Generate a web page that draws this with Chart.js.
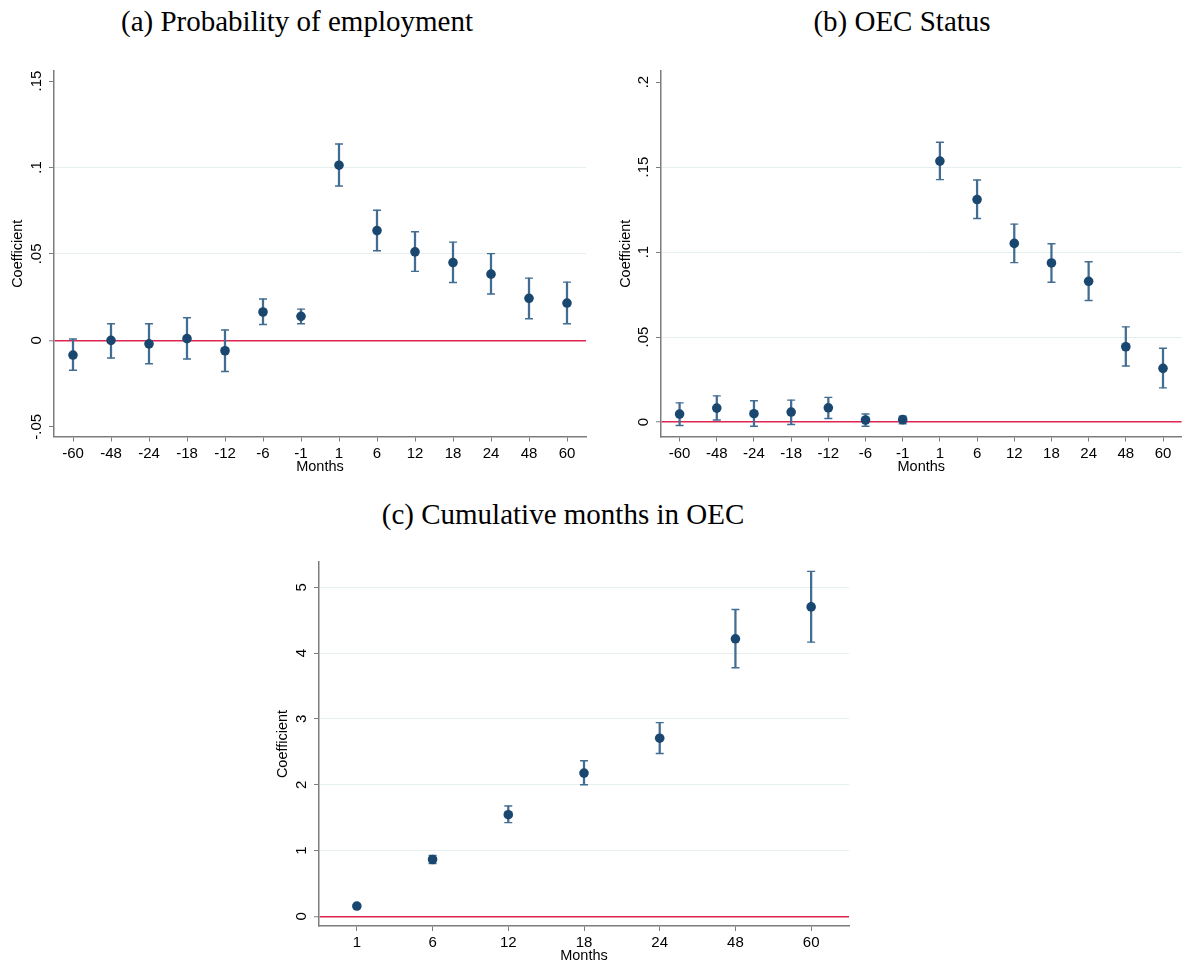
<!DOCTYPE html>
<html>
<head>
<meta charset="utf-8">
<script src="https://cdn.jsdelivr.net/npm/chart.js@4.4.1/dist/chart.umd.min.js"></script>
<style>
  body { margin: 0; background: #fff; width: 1187px; height: 967px; position: relative; overflow: hidden; }
  .title { position: absolute; font-family: "Liberation Serif", serif; font-size: 29px; line-height: 29px;
           white-space: nowrap; transform: translateX(-50%); color: #000; }
  canvas { position: absolute; }
</style>
</head>
<body>
<div class="title" style="left:297px; top:7px">(a) Probability of employment</div>
<div class="title" style="left:902px; top:7px">(b) OEC Status</div>
<div class="title" style="left:563px; top:500px">(c) Cumulative months in OEC</div>

<canvas id="chartA" style="left:0px; top:60px" width="600" height="420"></canvas>
<canvas id="chartB" style="left:617px; top:60px" width="570" height="420"></canvas>
<canvas id="chartC" style="left:260px; top:545px" width="600" height="422"></canvas>

<script>
// months relative to event
const monthsAB = ["-60", "-48", "-24", "-18", "-12", "-6", "-1", "1", "6", "12", "18", "24", "48", "60"];
const monthsC = ["1", "6", "12", "18", "24", "48", "60"];

// (a) probability of employment
const empCoef = [-0.0085, 0.0, -0.002, 0.001, -0.006, 0.0164, 0.0139, 0.1013, 0.0635, 0.0512, 0.045, 0.0383, 0.0243, 0.0216];
const empLo = [-0.0173, -0.0102, -0.0135, -0.0108, -0.018, 0.0092, 0.0096, 0.0893, 0.0518, 0.0399, 0.0335, 0.0268, 0.0125, 0.0096];
const empHi = [0.0008, 0.0096, 0.0096, 0.0131, 0.006, 0.0239, 0.0181, 0.1136, 0.0753, 0.0628, 0.0568, 0.0502, 0.036, 0.0337];

// (b) OEC status
const oecCoef = [0.0047, 0.0082, 0.0049, 0.0059, 0.0084, 0.0012, 0.0014, 0.1535, 0.1309, 0.1051, 0.0936, 0.0828, 0.0443, 0.0316];
const oecLo = [-0.002, 0.0012, -0.0025, -0.0014, 0.0021, -0.0025, -0.001, 0.1426, 0.1197, 0.0938, 0.0822, 0.0715, 0.033, 0.0201];
const oecHi = [0.0113, 0.0154, 0.0125, 0.0129, 0.0145, 0.0047, 0.0035, 0.1646, 0.1424, 0.1164, 0.1049, 0.0943, 0.056, 0.0434];

// (c) cumulative months in OEC
const cumCoef = [0.157, 0.864, 1.545, 2.177, 2.707, 4.217, 4.702];
const cumLo = [0.135, 0.803, 1.424, 2.0, 2.475, 3.778, 4.167];
const cumHi = [0.18, 0.924, 1.677, 2.364, 2.944, 4.662, 5.242];

// y tick values and labels
const yTicksA = [-0.05, 0, 0.05, 0.1, 0.15];
const yLabelsA = ["-.05", "0", ".05", ".1", ".15"];
const yTicksB = [0, 0.05, 0.1, 0.15, 0.2];
const yLabelsB = ["0", ".05", ".1", ".15", ".2"];
const yTicksC = [0, 1, 2, 3, 4, 5];
const yLabelsC = ["0", "1", "2", "3", "4", "5"];

const NAVY = "#1a476f";
const CI = "#426d92";
const RED = "#dc2650";
const GRID = "#e6eff0";
const AXIS = "#7d7d7d";
const SANS = "'Liberation Sans', Arial, sans-serif";

Chart.defaults.font.family = SANS;
Chart.defaults.animation = false;

function makePanel(id, o) {
  const ctx = document.getElementById(id);
  const n = o.yTicks.length;
  return new Chart(ctx, {
    type: "bar",
    data: {
      labels: o.labels,
      datasets: [
        {
          type: "bar",
          data: o.lo.map((v, i) => [v, o.hi[i]]),
          backgroundColor: CI,
          barThickness: 1.6,
          borderWidth: 0,
          order: 2,
        },
        {
          type: "line",
          data: o.hi,
          showLine: false,
          pointStyle: "line",
          pointRadius: 4,
          pointBorderColor: CI,
          pointBorderWidth: 1.4,
          order: 1,
        },
        {
          type: "line",
          data: o.lo,
          showLine: false,
          pointStyle: "line",
          pointRadius: 4,
          pointBorderColor: CI,
          pointBorderWidth: 1.4,
          order: 1,
        },
        {
          type: "line",
          data: o.coef,
          showLine: false,
          pointStyle: "circle",
          pointRadius: 4.8,
          pointBackgroundColor: NAVY,
          pointBorderColor: NAVY,
          pointBorderWidth: 0,
          order: 0,
        },
      ],
    },
    options: {
      responsive: false,
      events: [],
      layout: { padding: o.pad },
      plugins: { legend: { display: false }, tooltip: { enabled: false } },
      scales: {
        x: {
          type: "category",
          offset: true,
          grid: { offset: false, drawOnChartArea: false, tickLength: 5, tickColor: AXIS, tickWidth: 1 },
          border: { color: AXIS, width: 1.5 },
          ticks: { color: "#000", font: { size: 15 }, padding: 3, maxRotation: 0, autoSkip: false },
          title: { display: true, text: "Months", color: "#000", font: { size: 14.5 }, padding: { top: 0, bottom: 2 } },
          afterFit: (s) => {
            s.height = o.xh;
            s.paddingLeft = 0;
            s.paddingRight = 0;
          },
        },
        y: {
          min: o.min,
          max: o.max,
          afterBuildTicks: (s) => {
            s.ticks = o.yTicks.map((v) => ({ value: v }));
          },
          ticks: {
            callback: (v, i) => o.yLabels[i],
            color: "#000",
            font: { size: 15 },
            minRotation: 90,
            maxRotation: 90,
            crossAlign: "center",
            padding: o.tickPad,
            autoSkip: false,
          },
          grid: {
            color: (c) => {
              if (c.tick && c.tick.value === 0) return RED;
              if (o.skipEdges && (c.index === 0 || c.index === n - 1)) return "rgba(0,0,0,0)";
              return GRID;
            },
            lineWidth: (c) => (c.tick && c.tick.value === 0 ? 1.5 : 1),
            tickLength: 5,
            tickColor: AXIS,
            tickWidth: 1,
          },
          border: { color: AXIS, width: 1.5 },
          title: { display: true, text: "Coefficient", color: "#000", font: { size: 14.5 }, padding: { top: o.titlePad, bottom: 0 } },
          afterFit: (s) => {
            s.width = o.yw;
            s.paddingTop = 0;
            s.paddingBottom = 0;
          },
        },
      },
    },
  });
}

makePanel("chartA", {
  labels: monthsAB, coef: empCoef, lo: empLo, hi: empHi,
  yTicks: yTicksA, yLabels: yLabelsA, min: -0.0556, max: 0.1558,
  skipEdges: true, yw: 54, xh: 41.5, tickPad: -0.9, titlePad: 9.4,
  pad: { top: 11, right: 14, bottom: 2, left: 0 },
});

makePanel("chartB", {
  labels: monthsAB, coef: oecCoef, lo: oecLo, hi: oecHi,
  yTicks: yTicksB, yLabels: yLabelsB, min: -0.0085, max: 0.2065,
  skipEdges: true, yw: 44, xh: 41.5, tickPad: 1.6, titlePad: 0,
  pad: { top: 11, right: 0, bottom: 2, left: 0 },
});

makePanel("chartC", {
  labels: monthsC, coef: cumCoef, lo: cumLo, hi: cumHi,
  yTicks: yTicksC, yLabels: yLabelsC, min: -0.146, max: 5.384,
  skipEdges: false, yw: 59, xh: 41, tickPad: 7.8, titlePad: 14.4,
  pad: { top: 17, right: 11, bottom: 0, left: 0 },
});
</script>
</body>
</html>
